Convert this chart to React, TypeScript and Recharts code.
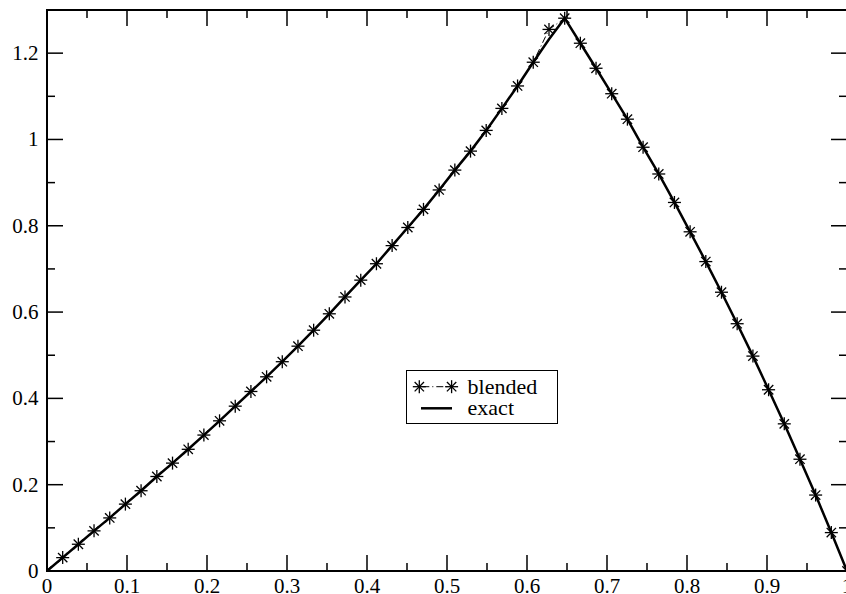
import React from 'react';
import { LineChart, Line, XAxis, YAxis, ReferenceArea, Legend } from 'recharts';

// ---- data ----
const xValues = [
  0, 0.0196, 0.0392, 0.0588, 0.0784, 0.098, 0.1176, 0.1373, 0.1569, 0.1765,
  0.1961, 0.2157, 0.2353, 0.2549, 0.2745, 0.2941, 0.3137, 0.3333, 0.3529, 0.3725,
  0.3922, 0.4118, 0.4314, 0.451, 0.4706, 0.4902, 0.5098, 0.5294, 0.549, 0.5686,
  0.5882, 0.6078, 0.6275, 0.6471, 0.6667, 0.6863, 0.7059, 0.7255, 0.7451, 0.7647,
  0.7843, 0.8039, 0.8235, 0.8431, 0.8627, 0.8824, 0.902, 0.9216, 0.9412, 0.9608,
  0.9804, 1.0,
];
const blendedValues = [
  0, 0.031, 0.062, 0.093, 0.123, 0.155, 0.186, 0.219, 0.25, 0.282,
  0.315, 0.348, 0.382, 0.416, 0.45, 0.485, 0.521, 0.558, 0.596, 0.635,
  0.674, 0.712, 0.754, 0.796, 0.838, 0.883, 0.929, 0.973, 1.021, 1.072,
  1.124, 1.179, 1.255, 1.281, 1.223, 1.165, 1.106, 1.047, 0.982, 0.92,
  0.854, 0.786, 0.717, 0.646, 0.573, 0.498, 0.42, 0.341, 0.259, 0.176,
  0.089, 0,
];
const exactValues = [
  0, 0.031, 0.062, 0.093, 0.123, 0.155, 0.186, 0.219, 0.25, 0.282,
  0.315, 0.348, 0.382, 0.416, 0.45, 0.485, 0.521, 0.558, 0.596, 0.635,
  0.674, 0.712, 0.754, 0.796, 0.838, 0.883, 0.929, 0.973, 1.021, 1.072,
  1.124, 1.179, 1.232, 1.281, 1.223, 1.165, 1.106, 1.047, 0.982, 0.92,
  0.854, 0.786, 0.717, 0.646, 0.573, 0.498, 0.42, 0.341, 0.259, 0.176,
  0.089, 0,
];
const xTicks = [0, 0.05, 0.1, 0.15, 0.2, 0.25, 0.3, 0.35, 0.4, 0.45, 0.5, 0.55, 0.6, 0.65, 0.7, 0.75, 0.8, 0.85, 0.9, 0.95, 1];
const yTicks = [0, 0.1, 0.2, 0.3, 0.4, 0.5, 0.6, 0.7, 0.8, 0.9, 1, 1.1, 1.2];

const blendedData = xValues.map((x, i) => ({ x, y: blendedValues[i] }));
const exactData = xValues.map((x, i) => ({ x, y: exactValues[i] }));

// ---- layout ----
const CHART_W = 847;
const CHART_H = 594;
const PLOT_LEFT = 47;
const PLOT_TOP = 10;
const PLOT_BOTTOM = 571;
const PLOT_RIGHT = 847;
const textStyle: React.CSSProperties = { fontFamily: "'Liberation Serif'" };

const fmt = (v: number) => String(Math.round(v * 100) / 100);
const isMult = (v: number, n: number) => Math.abs(v * n - Math.round(v * n)) < 1e-6;

const renderXTick = (props: any) => {
  const { x, payload, index } = props;
  const v = payload.value;
  const major = isMult(v, 10);
  const len = major ? 16 : 8;
  return (
    <g key={`xt-${index}`}>
      <line x1={x} x2={x} y1={PLOT_BOTTOM} y2={PLOT_BOTTOM - len} stroke="#000" strokeWidth={1.5} />
      <line x1={x} x2={x} y1={PLOT_TOP} y2={PLOT_TOP + len} stroke="#000" strokeWidth={1.5} />
      {major && (
        <text x={x} y={593} textAnchor="middle" style={textStyle} fontSize={21} fill="#000">
          {fmt(v)}
        </text>
      )}
    </g>
  );
};

const renderYTick = (props: any) => {
  const { y, payload, index } = props;
  const v = payload.value;
  const major = isMult(v, 5);
  const len = major ? 16 : 8;
  return (
    <g key={`yt-${index}`}>
      <line x1={PLOT_LEFT} x2={PLOT_LEFT + len} y1={y} y2={y} stroke="#000" strokeWidth={1.5} />
      <line x1={PLOT_RIGHT} x2={PLOT_RIGHT - len} y1={y} y2={y} stroke="#000" strokeWidth={1.5} />
      {major && (
        <text x={38.5} y={y + 7} textAnchor="end" style={textStyle} fontSize={21} fill="#000">
          {fmt(v)}
        </text>
      )}
    </g>
  );
};

const Star = ({ cx, cy, r = 6.5 }: { cx: number; cy: number; r?: number }) => {
  const d = r * 0.72;
  return (
    <g stroke="#000" strokeWidth={1.3}>
      <line x1={cx - r} x2={cx + r} y1={cy} y2={cy} />
      <line x1={cx} x2={cx} y1={cy - r} y2={cy + r} />
      <line x1={cx - d} x2={cx + d} y1={cy - d} y2={cy + d} />
      <line x1={cx - d} x2={cx + d} y1={cy + d} y2={cy - d} />
    </g>
  );
};

const renderStarDot = (props: any) => {
  const { cx, cy, index } = props;
  if (cx == null || cy == null) return <g key={`s-${index}`} />;
  return (
    <g key={`s-${index}`}>
      <Star cx={cx} cy={cy} />
    </g>
  );
};

const renderLegend = (props: any) => {
  const payload = props.payload || [];
  const names = payload.map((p: any) => p.value);
  const first = names[0] ?? 'blended';
  const second = names[1] ?? 'exact';
  return (
    <svg width={152} height={54} style={{ display: 'block' }}>
      <rect x={0.5} y={0.5} width={151} height={53} fill="#fff" stroke="#000" strokeWidth={1} />
      <line x1={13.3} x2={45.6} y1={16.7} y2={16.7} stroke="#000" strokeWidth={1} strokeDasharray="7 3 1 3" strokeDashoffset={-3} />
      <Star cx={13.3} cy={16.7} />
      <Star cx={45.6} cy={16.7} />
      <text x={61.6} y={23.5} style={textStyle} fontSize={22} fill="#000">{first}</text>
      <line x1={15} x2={46} y1={38.3} y2={38.3} stroke="#000" strokeWidth={2.5} />
      <text x={61.6} y={44.5} style={textStyle} fontSize={22} fill="#000">{second}</text>
    </svg>
  );
};

export default function App() {
  return (
    <div style={{ position: 'absolute', left: 0, top: 0, width: 846, height: 594, overflow: 'hidden', background: '#fff' }}>
      <LineChart width={CHART_W} height={CHART_H} margin={{ top: PLOT_TOP, right: CHART_W - PLOT_RIGHT, bottom: 0, left: 0 }}>
        <XAxis
          type="number"
          dataKey="x"
          domain={[0, 1]}
          ticks={xTicks}
          interval={0}
          height={CHART_H - PLOT_BOTTOM}
          tickSize={2}
          tickMargin={0}
          axisLine={false}
          tickLine={false}
          tick={renderXTick}
          allowDataOverflow
        />
        <YAxis
          type="number"
          domain={[0, 1.3]}
          ticks={yTicks}
          interval={0}
          width={PLOT_LEFT}
          tickSize={2}
          tickMargin={0}
          axisLine={false}
          tickLine={false}
          tick={renderYTick}
          allowDataOverflow
        />
        <ReferenceArea x1={0} x2={1} y1={0} y2={1.3} fill="none" stroke="#000" strokeWidth={2} ifOverflow="visible" />
        <Line
          data={blendedData}
          dataKey="y"
          name="blended"
          type="linear"
          stroke="#000"
          strokeWidth={1}
          strokeDasharray="7 3 1 3"
          dot={renderStarDot}
          activeDot={false}
          isAnimationActive={false}
        />
        <Line
          data={exactData}
          dataKey="y"
          name="exact"
          type="linear"
          stroke="#000"
          strokeWidth={2.5}
          dot={false}
          activeDot={false}
          isAnimationActive={false}
        />
        <Legend
          layout="horizontal"
          verticalAlign="middle"
          align="center"
          content={renderLegend}
          wrapperStyle={{ position: 'absolute', left: 406, top: 370, width: 152, height: 54, margin: 0, padding: 0 }}
        />
      </LineChart>
    </div>
  );
}
